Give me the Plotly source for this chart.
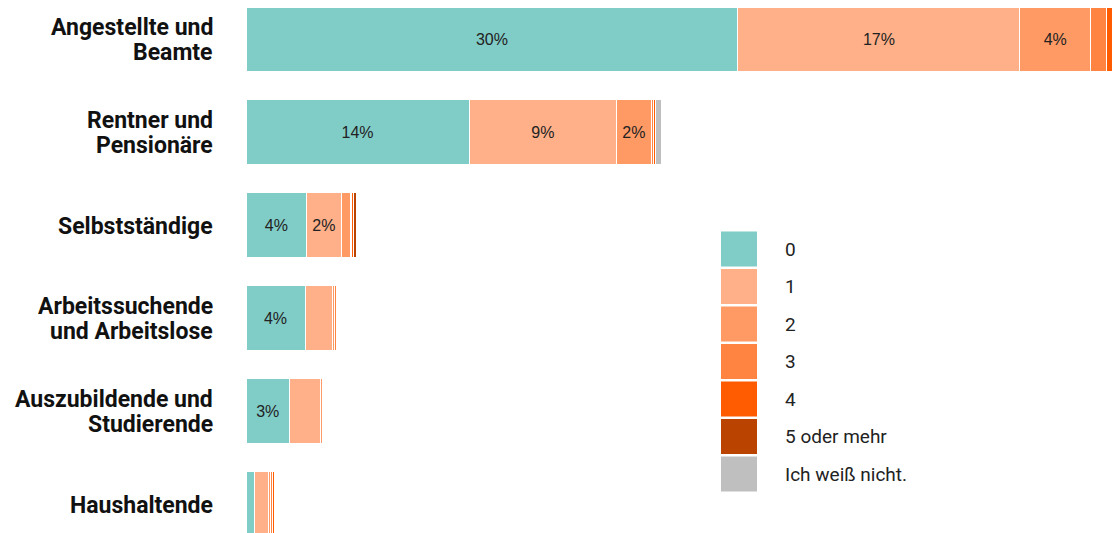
import plotly.graph_objects as go

categories = ["Angestellte und<br>Beamte", "Rentner und<br>Pensionäre", "Selbstständige",
              "Arbeitssuchende<br>und Arbeitslose", "Auszubildende und<br>Studierende", "Haushaltende"]
series_names = ["0", "1", "2", "3", "4", "5 oder mehr", "Ich weiß nicht."]
colors = ["#80ccc7", "#ffb089", "#ff9a65", "#ff8341", "#ff5b00", "#bb4300", "#bfbfbf"]

# percentage values per series (one entry per category)
v0 = [30.0, 13.6, 3.7, 3.6, 2.65, 0.5]
v1 = [17.2, 9.0, 2.1, 1.67, 1.87, 0.9]
v2 = [4.3, 2.1, 0.55, 0.15, 0.15, 0.12]
v3 = [1.0, 0.15, 0.1, 0.1, 0.08, 0.1]
v4 = [0.6, 0.1, 0.08, 0.05, 0.03, 0.12]
v5 = [0.1, 0.05, 0.18, 0.03, 0.02, 0.04]
v6 = [0.1, 0.35, 0.02, 0.02, 0.02, 0.03]
values = [v0, v1, v2, v3, v4, v5, v6]

ids = list(range(len(categories)))

fig = go.Figure()
for name, col, vals in zip(series_names, colors, values):
    txt = [f"{round(v)}%" if v >= 2 else "" for v in vals]
    fig.add_trace(go.Bar(
        y=ids, x=vals, name=name, orientation="h",
        marker=dict(color=col, line=dict(color="white", width=1)),
        text=txt, textposition="inside", insidetextanchor="middle",
        textfont=dict(family="Liberation Sans, Arial", size=16, color="#222222"),
        textangle=0, hoverinfo="skip", showlegend=False,
    ))

total_max = max(sum(v[i] for v in values) for i in range(len(categories)))

# page offset (body margin) compensation
OFF = 8
W, H = 1120 - OFF, 533 - OFF
L = 246 - OFF
PITCH = 93
C0 = 39 - OFF

shapes = []
annotations = []

# category labels (one annotation per line for tight line spacing)
LINE = 25
for i, cat in enumerate(categories):
    lines = cat.split("<br>")
    n = len(lines)
    for j, ln in enumerate(lines):
        annotations.append(dict(
            xref="paper", yref="y", x=0, y=i, xanchor="right", yanchor="middle",
            xshift=-31, yshift=-(j - (n - 1) / 2) * LINE - 1,
            text=ln, showarrow=False,
            font=dict(family="Roboto", size=23, color="#111111", weight="bold")))

# legend drawn as shapes + annotations
x0, x1 = 721 - OFF, 757 - OFF
top0, pitch, h = 231.5 - OFF, 37.5, 35
for i, (name, col) in enumerate(zip(series_names, colors)):
    yt = top0 + i * pitch
    shapes.append(dict(type="rect", xref="paper", yref="paper",
                       x0=(x0 - L) / (W - L), x1=(x1 - L) / (W - L),
                       y0=1 - (yt + h) / H, y1=1 - yt / H,
                       fillcolor=col, line=dict(width=0), layer="above"))
    annotations.append(dict(xref="paper", yref="paper",
                            x=(783 - OFF - L) / (W - L), y=1 - (yt + h / 2) / H,
                            text=name, showarrow=False, xanchor="left", yanchor="middle",
                            font=dict(family="Roboto", size=19, color="#222222")))

fig.update_layout(
    barmode="stack", bargap=0.31,
    width=W, height=H,
    margin=dict(l=L, r=0, t=0, b=0),
    plot_bgcolor="white", paper_bgcolor="white",
    xaxis=dict(range=[0, total_max], visible=False, fixedrange=True),
    yaxis=dict(range=[(H - C0) / PITCH, -C0 / PITCH], showgrid=False, zeroline=False,
               showline=False, ticks="", showticklabels=False),
    shapes=shapes, annotations=annotations,
    uniformtext=dict(mode="show", minsize=8),
)

fig.write_html("out.html")
